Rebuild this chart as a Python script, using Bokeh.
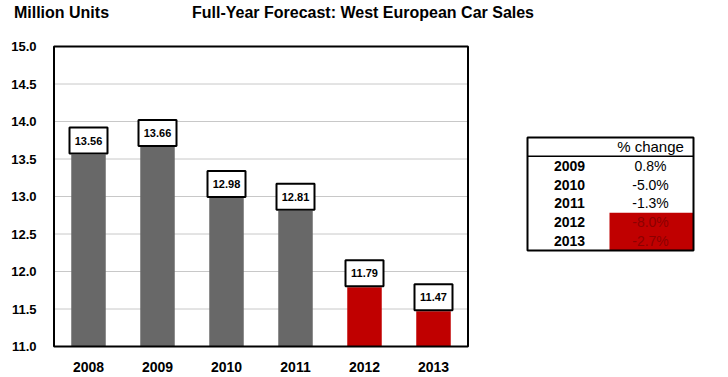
from bokeh.plotting import figure
from bokeh.models import Range1d, FixedTicker, PrintfTickFormatter, ColumnDataSource, LinearAxis
from bokeh.core.properties import value
from bokeh.embed import file_html
from bokeh.resources import INLINE

# ---- data ----
years = ["2008", "2009", "2010", "2011", "2012", "2013"]
sales = [13.56, 13.66, 12.98, 12.81, 11.79, 11.47]
forecast = [False, False, False, False, True, True]
y_ticks = [11.0, 11.5, 12.0, 12.5, 13.0, 13.5, 14.0, 14.5, 15.0]
chg_years = ["2009", "2010", "2011", "2012", "2013"]
chg_pct = [0.8, -5.0, -1.3, -8.0, -2.7]
chg_forecast = [False, False, False, True, True]
title_text = "Full-Year Forecast: West European Car Sales"
unit_text = "Million Units"
table_header = "% change"

FONT = "Liberation Sans"
GRAY = "#686868"
RED = "#C00000"

W, H = 728, 377
BL, BR, BT, BB = 52, 4, 44, 29
FW = W - BL - BR
FH = H - BT - BB
PX_X = 69.0   # px per category
PX_Y = 75.0   # px per million
pad_x = 1.5 / PX_X
pad_y = 2.0 / PX_Y

p = figure(width=W, height=H, output_backend="svg", toolbar_location=None,
           x_range=Range1d(-pad_x, -pad_x + FW / PX_X),
           y_range=Range1d(y_ticks[0] - pad_y, y_ticks[0] - pad_y + FH / PX_Y),
           min_border_left=BL, min_border_right=BR, min_border_top=BT, min_border_bottom=BB,
           outline_line_color=None, background_fill_color="white", border_fill_color="white")
p.xgrid.visible = False
p.ygrid.visible = False

# page-pixel coordinate ranges for the table and headings
p.extra_x_ranges = {"tx": Range1d(BL, BL + FW)}
p.extra_y_ranges = {"ty": Range1d(BT + FH, BT)}

n = len(years)
xs = [i + 0.5 for i in range(n)]

# grid lines
p.segment(x0=[0] * len(y_ticks), x1=[n] * len(y_ticks), y0=y_ticks, y1=y_ticks,
          line_color="#c8c8c8", line_width=1)

# bars
colors = [RED if f else GRAY for f in forecast]
src = ColumnDataSource(dict(x=xs, top=sales, color=colors,
                            lab=[f"{v:.2f}" for v in sales],
                            ly=[v + 14 / PX_Y for v in sales]))
p.vbar(x="x", top="top", bottom=y_ticks[0], width=0.5, fill_color="color",
       line_color=None, source=src)

# chart box
p.quad(left=[0], right=[n], bottom=[y_ticks[0]], top=[y_ticks[-1]], fill_color=None,
       line_color="black", line_width=2)

# value boxes
p.rect(x="x", y="ly", width=38, height=26, width_units="screen", height_units="screen",
       fill_color="white", line_color="black", line_width=2, source=src)
p.text(x="x", y="ly", text="lab", text_align="center", text_baseline="middle",
       text_font=value(FONT), text_font_style="bold", text_font_size="11px",
       text_color="black", source=src)

# axes
p.yaxis.ticker = FixedTicker(ticks=y_ticks)
p.yaxis.formatter = PrintfTickFormatter(format="%.1f")
p.yaxis.axis_line_color = None
p.yaxis.major_tick_line_color = None
p.yaxis.minor_tick_line_color = None
p.yaxis.major_label_standoff = 10
p.yaxis.major_label_text_font = FONT
p.yaxis.major_label_text_font_style = "bold"
p.yaxis.major_label_text_font_size = "13px"
p.yaxis.major_label_text_color = "black"

p.xaxis.ticker = FixedTicker(ticks=xs)
p.xaxis.major_label_overrides = {x: y for x, y in zip(xs, years)}
p.xaxis.axis_line_color = None
p.xaxis.major_tick_line_color = None
p.xaxis.minor_tick_line_color = None
p.xaxis.major_label_standoff = 7
p.xaxis.major_label_text_font = FONT
p.xaxis.major_label_text_font_style = "bold"
p.xaxis.major_label_text_font_size = "14px"
p.xaxis.major_label_text_color = "black"

# headings: unit label and chart title, in the top panel
UNIT_CX, TITLE_CX = 61, 362.5
head = LinearAxis(x_range_name="tx", ticker=FixedTicker(ticks=[UNIT_CX, TITLE_CX]),
                  major_label_overrides={UNIT_CX: unit_text, TITLE_CX: title_text})
head.axis_line_color = None
head.major_tick_line_color = None
head.minor_tick_line_color = None
head.major_label_standoff = 18
head.major_label_text_font = FONT
head.major_label_text_font_style = "bold"
head.major_label_text_font_size = "16px"
head.major_label_text_color = "black"
p.add_layout(head, "above")

# % change table (page-pixel coordinates)
T_L, T_R, T_T, T_B = 527, 693, 137, 250
COL_SPLIT = 609
nrows = len(chg_years) + 1
row_h = (T_B - T_T) / nrows
row_c = [T_T + row_h * (i + 1.5) for i in range(len(chg_years))]
red_rows = [i for i, f in enumerate(chg_forecast) if f]
if red_rows:
    p.quad(left=[COL_SPLIT], right=[T_R], top=[T_T + row_h * (red_rows[0] + 1)],
           bottom=[T_T + row_h * (red_rows[-1] + 2)], fill_color=RED, line_color=None,
           x_range_name="tx", y_range_name="ty")
p.segment(x0=[T_L], x1=[T_R], y0=[T_T + row_h], y1=[T_T + row_h], line_color="black",
          line_width=1.5, x_range_name="tx", y_range_name="ty")
p.quad(left=[T_L], right=[T_R], top=[T_T], bottom=[T_B], fill_color=None,
       line_color="black", line_width=2, x_range_name="tx", y_range_name="ty")

p.text(x=[650], y=[T_T + row_h / 2], text=[table_header], text_align="center",
       text_baseline="middle", text_font=value(FONT), text_font_size="15px",
       text_color="black", x_range_name="tx", y_range_name="ty")
p.text(x=[569] * len(chg_years), y=row_c, text=chg_years, text_align="center",
       text_baseline="middle", text_font=value(FONT), text_font_style="bold",
       text_font_size="14px", text_color="black", x_range_name="tx", y_range_name="ty")
tsrc = ColumnDataSource(dict(x=[650] * len(chg_pct), y=row_c,
                             t=[f"{v:.1f}%" for v in chg_pct],
                             c=["#8B0000" if f else "black" for f in chg_forecast]))
p.text(x="x", y="y", text="t", text_color="c", text_align="center",
       text_baseline="middle", text_font=value(FONT), text_font_size="14px",
       x_range_name="tx", y_range_name="ty", source=tsrc)

open("out.html", "w").write(file_html(p, INLINE))
